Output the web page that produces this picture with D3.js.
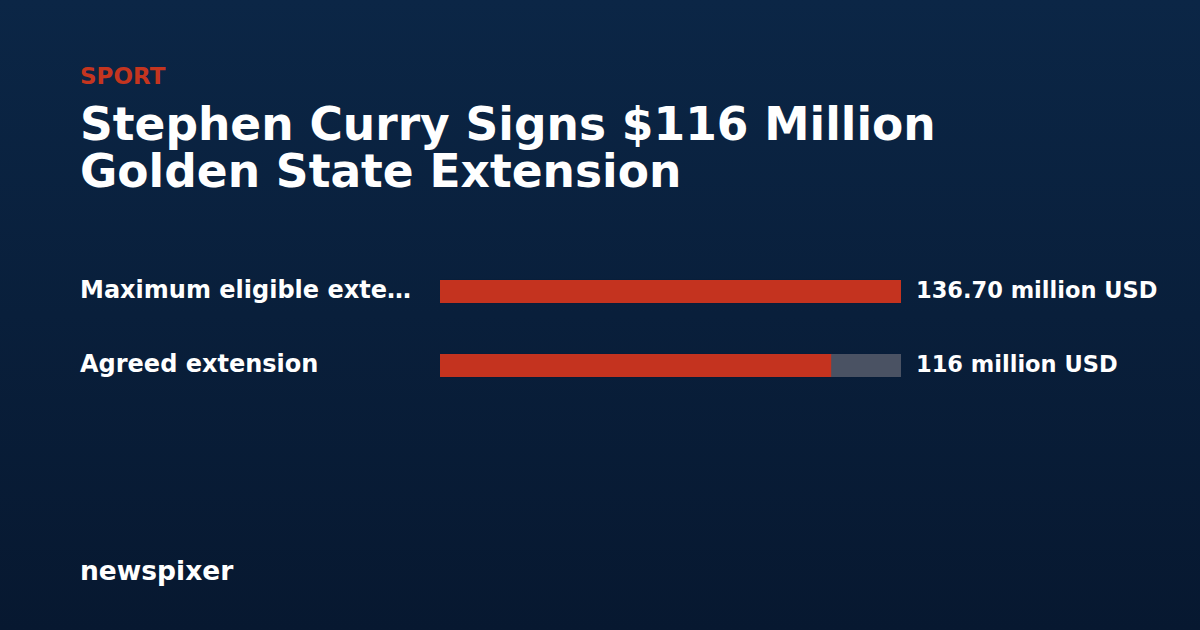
<!DOCTYPE html>
<html><head><meta charset="utf-8">
<script src="https://cdn.jsdelivr.net/npm/d3@7"></script>
<style>
html,body{margin:0;padding:0;background:#081b35;}
svg{display:block;font-family:"DejaVu Sans",sans-serif;font-weight:bold;}
</style></head>
<body>
<svg id="chart" width="1200" height="630"></svg>
<script>
const kicker = "SPORT";
const titleLines = ["Stephen Curry Signs $116 Million", "Golden State Extension"];
const categories = ["Maximum eligible extension", "Agreed extension"];
const values = [136.70, 116];
const valueLabels = ["136.70 million USD", "116 million USD"];
const brand = "newspixer";

const svg = d3.select("#chart");
const W = 1200, H = 630;

const defs = svg.append("defs");
const grad = defs.append("linearGradient").attr("id","bg").attr("x1",0).attr("y1",0).attr("x2",0).attr("y2",1);
grad.append("stop").attr("offset","0%").attr("stop-color","#0b2646");
grad.append("stop").attr("offset","100%").attr("stop-color","#071830");
svg.append("rect").attr("width",W).attr("height",H).attr("fill","url(#bg)");

svg.append("text").attr("x",80).attr("y",83.5).attr("fill","#c4351f")
  .style("font-size","23px").text(kicker);

svg.append("text").attr("fill","#ffffff").style("font-size","45.5px")
  .selectAll("tspan").data(titleLines).join("tspan")
  .attr("x",80).attr("y",(d,i)=>140+i*47).text(d=>d);

const x = d3.scaleLinear().domain([0, d3.max(values)]).range([440, 901]);
const y = d3.scaleBand().domain(categories).range([243, 414]).paddingInner(0.689).paddingOuter(0.5);

const rows = svg.append("g").selectAll("g").data(categories).join("g");

rows.append("rect").attr("x",x(0)).attr("y",d=>y(d)).attr("height",y.bandwidth())
  .attr("width",x(d3.max(values))-x(0)).attr("fill","#4a5263");
rows.append("rect").attr("x",x(0)).attr("y",d=>y(d)).attr("height",y.bandwidth())
  .attr("width",(d,i)=>x(values[i])-x(0)).attr("fill","#c4331f");

rows.append("text").attr("x",80).attr("y",d=>y(d)+y.bandwidth()/2+6.5)
  .attr("fill","#ffffff").style("font-size","24px")
  .text(d=>d)
  .each(function(d){
    const t = d3.select(this); const maxW = 340;
    if (this.getComputedTextLength() > maxW) {
      let s = d;
      while (s.length > 0) { s = s.slice(0,-1); t.text(s.trimEnd()+"…"); if (this.getComputedTextLength() <= maxW) break; }
    }
  });

rows.append("text").attr("x",x(d3.max(values))+15).attr("y",d=>y(d)+y.bandwidth()/2+6.5)
  .attr("fill","#ffffff").style("font-size","22.5px")
  .text((d,i)=>valueLabels[i]);

svg.append("text").attr("x",80).attr("y",579.5).attr("fill","#ffffff").style("font-size","26.5px").text(brand);
</script>
</body></html>
